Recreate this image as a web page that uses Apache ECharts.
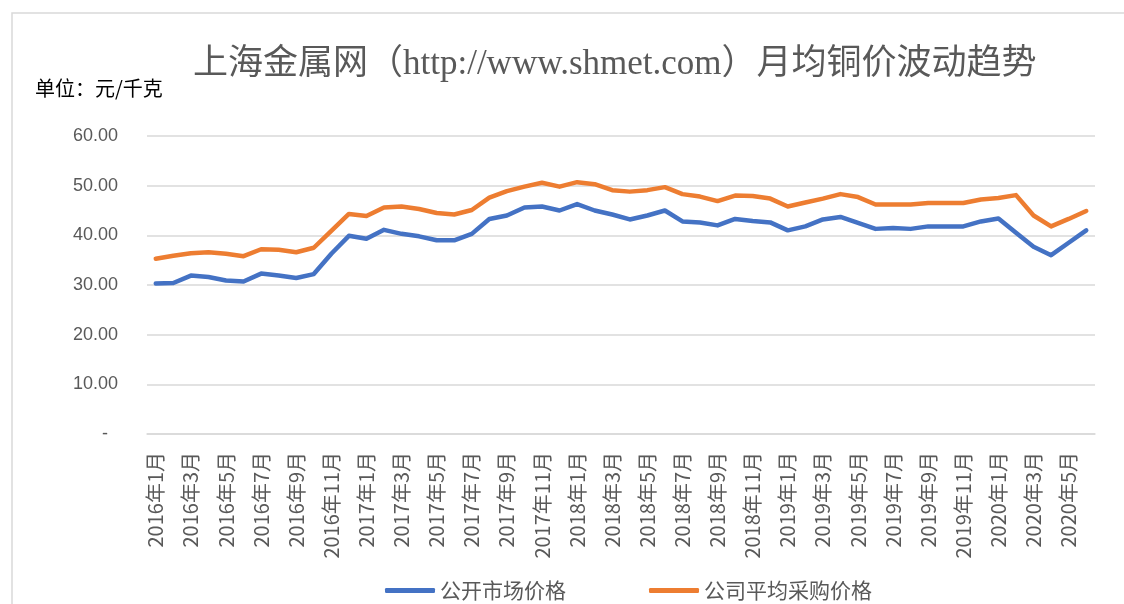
<!DOCTYPE html>
<html>
<head>
<meta charset="utf-8">
<script src="https://cdn.jsdelivr.net/npm/echarts@6/dist/echarts.min.js"></script>
<style>
  html, body { margin: 0; padding: 0; background: #fff; }
  #echart { width: 1124px; height: 604px; }
</style>
</head>
<body>
<div id="echart"></div>
<script>
// months 2016-01 .. 2020-06
var months = [];
for (var y = 2016; y <= 2020; y++) {
	for (var m = 1; m <= 12; m++) {
		if (y === 2020 && m > 6) break;
		months.push(y + '年' + m + '月');
	}
}

var marketPrice = [
	30.3, 30.4, 31.9, 31.6, 30.9, 30.7, 32.3, 31.9, 31.4, 32.2, 36.3, 39.9,
	39.3, 41.1, 40.3, 39.8, 39.0, 39.0, 40.3, 43.3, 44.0, 45.6, 45.8, 45.0,
	46.3, 45.0, 44.2, 43.2, 44.0, 45.0, 42.8, 42.6, 42.0, 43.3, 42.9, 42.6,
	41.0, 41.8, 43.2, 43.7, 42.5, 41.3, 41.5, 41.3, 41.8, 41.8, 41.8, 42.8,
	43.4, 40.5, 37.7, 36.0, 38.5, 41.0
];

var purchasePrice = [
	35.3, 35.9, 36.4, 36.6, 36.3, 35.8, 37.2, 37.1, 36.6, 37.5, 40.9, 44.3,
	43.9, 45.6, 45.8, 45.3, 44.5, 44.2, 45.1, 47.6, 48.9, 49.8, 50.6, 49.8,
	50.7, 50.3, 49.1, 48.8, 49.1, 49.7, 48.3, 47.8, 46.9, 48.0, 47.9, 47.4,
	45.8, 46.6, 47.4, 48.3, 47.7, 46.2, 46.2, 46.2, 46.5, 46.5, 46.5, 47.2,
	47.5, 48.1, 44.0, 41.8, 43.3, 44.9
];

var seriesNames = ['公开市场价格', '公司平均采购价格'];

var eChart = echarts.init(document.getElementById('echart'));

var eChartOption = {
	animation: false,
	backgroundColor: '#ffffff',
	title: {
		text: '上海金属网（http://www.shmet.com）月均铜价波动趋势',
		left: 188,
		top: 42,
		textStyle: {
			fontFamily: '"Liberation Serif", "Noto Sans CJK SC", serif',
			fontWeight: 'normal',
			fontSize: 35,
			color: '#595959'
		}
	},
	graphic: [
		{
			type: 'text',
			left: 35,
			top: 78,
			style: {
				text: '单位：元/千克',
				font: '20px "Noto Sans CJK SC", sans-serif',
				fill: '#000000'
			}
		},
		// outer frame (left + top edges)
		{
			type: 'polyline',
			shape: { points: [[12, 604], [12, 13], [1124, 13]] },
			style: { stroke: '#d9d9d9', lineWidth: 1.5, fill: null }
		}
	],
	legend: {
		top: 575,
		left: 380,
		itemGap: 83,
		itemWidth: 50,
		itemHeight: 5,
		icon: 'roundRect',
		data: seriesNames,
		textStyle: {
			fontFamily: '"Noto Sans CJK SC", sans-serif',
			fontSize: 21,
			color: '#595959'
		}
	},
	grid: {
		left: 147,
		right: 29,
		top: 136,
		bottom: 170,
		containLabel: false
	},
	xAxis: {
		type: 'category',
		data: months,
		boundaryGap: true,
		axisLine: { lineStyle: { color: '#d9d9d9', width: 1.5 } },
		axisTick: { interval: 1, length: 6, lineStyle: { color: '#d9d9d9', width: 1.5 } },
		axisLabel: {
			interval: 1,
			rotate: 90,
			margin: 18,
			color: '#595959',
			fontSize: 20,
			fontFamily: '"Noto Sans CJK SC", sans-serif'
		}
	},
	yAxis: {
		type: 'value',
		min: 0,
		max: 60,
		interval: 10,
		axisLine: { show: false },
		axisTick: { show: false },
		splitLine: { lineStyle: { color: '#d9d9d9', width: 1.5 } },
		axisLabel: {
			margin: 29,
			color: '#595959',
			fontSize: 18,
			fontFamily: '"Liberation Sans", "Noto Sans", sans-serif',
			formatter: function(v) {
				return v === 0 ? '-  ' : v.toFixed(2);
			}
		}
	},
	series: [
		{
			name: seriesNames[0],
			type: 'line',
			data: marketPrice,
			symbol: 'none',
			color: '#4472C4',
			lineStyle: { width: 4.5, color: '#4472C4', join: 'round', cap: 'round' }
		},
		{
			name: seriesNames[1],
			type: 'line',
			data: purchasePrice,
			symbol: 'none',
			color: '#ED7D31',
			lineStyle: { width: 4.5, color: '#ED7D31', join: 'round', cap: 'round' }
		}
	]
};

eChart.setOption(eChartOption);
</script>
</body>
</html>
